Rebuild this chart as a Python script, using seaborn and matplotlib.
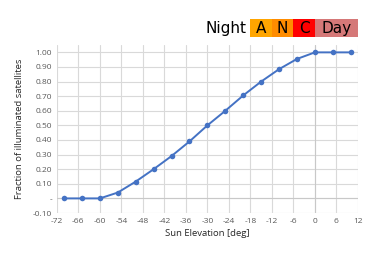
import numpy as np
import pandas as pd
import seaborn as sns
from matplotlib import pyplot as plt
from matplotlib.patches import Rectangle
from matplotlib.transforms import blended_transform_factory

# sun elevation (deg) and fraction of satellites in sunlight
elevation = [-70, -65, -60, -55, -50, -45, -40, -35, -30, -25, -20, -15, -10, -5, 0, 5, 10]
fraction = [0.0, 0.0, 0.0, 0.04, 0.115, 0.20, 0.29, 0.39, 0.50, 0.60, 0.705, 0.80, 0.885, 0.955, 1.0, 1.0, 1.0]

# twilight bands above the chart
band_labels = ['A', 'N', 'C', 'Day']
band_start = [-18, -12, -6, 0]
band_end = [-12, -6, 0, 12]
band_colors = ['#FFA500', '#FF8C00', '#FF0000', '#D57878']

xticks = list(range(-72, 13, 6))
yticks = [round(v, 2) for v in np.arange(-0.1, 1.01, 0.1)]

df = pd.DataFrame({'Sun Elevation [deg]': elevation, 'Fraction': fraction})

sns.set_style('white')
plt.rcParams['font.family'] = ['Open Sans', 'DejaVu Sans']

fig = plt.figure(figsize=(3.74, 2.62), dpi=100)
ax = fig.add_axes([0.152, 0.187, 0.805, 0.641])

sns.lineplot(data=df, x='Sun Elevation [deg]', y='Fraction', ax=ax,
             color='#4472C4', linewidth=1.4, marker='o', markersize=4,
             markeredgewidth=0, zorder=3)

ax.set_xlim(-72, 12)
ax.set_ylim(-0.10, 1.05)
ax.set_xticks(xticks)
ax.set_yticks(yticks)
ax.set_xticklabels([str(t) for t in xticks])
ax.set_yticklabels(['-' if abs(t) < 1e-9 else f'{t:.2f}' for t in yticks])
ax.tick_params(labelsize=6, colors='#595959', length=0, pad=3.5)

ax.grid(True, color='#D9D9D9', linewidth=0.8)
ax.axhline(0, color='#C8C8C8', linewidth=0.8, zorder=1)
ax.axvline(0, color='#C8C8C8', linewidth=0.8, zorder=1)
for s in ax.spines.values():
    s.set_visible(False)

ax.set_xlabel('Sun Elevation [deg]', fontsize=6.8, color='#262626', labelpad=3)
ax.set_ylabel('Fraction of illuminated satellites', fontsize=6.8, color='#262626', labelpad=6)

# Night / A / N / C / Day strip
trans = blended_transform_factory(ax.transData, ax.transAxes)
y0, y1 = 1.048, 1.155
for lab, a, b, c in zip(band_labels, band_start, band_end, band_colors):
    ax.add_patch(Rectangle((a, y0), b - a, y1 - y0, transform=trans,
                           facecolor=c, edgecolor='none', clip_on=False))
    ax.text((a + b) / 2, (y0 + y1) / 2 - 0.005, lab, transform=trans, ha='center', va='center',
            fontsize=11, family='DejaVu Sans', color='black')
ax.text(-19, (y0 + y1) / 2 - 0.005, 'Night', transform=trans, ha='right', va='center',
        fontsize=11, family='DejaVu Sans', color='black')

fig.savefig('out.png', dpi=100)
